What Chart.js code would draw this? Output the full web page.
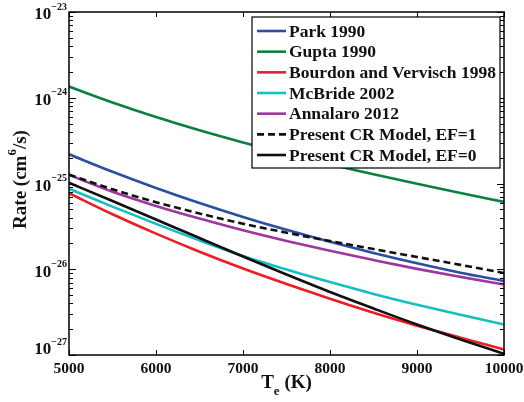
<!DOCTYPE html>
<html>
<head>
<meta charset="utf-8">
<script src="https://cdn.jsdelivr.net/npm/chart.js@4"></script>
<style>
  html, body { margin: 0; padding: 0; background: #fff; }
</style>
</head>
<body>
<canvas id="rateChart" width="524" height="402"></canvas>
<script>
// Recombination rate vs electron temperature
const temps = [5000, 5500, 6000, 6500, 7000, 7500, 8000, 8500, 9000, 9500, 10000];

const park     = [2.19e-25, 1.37e-25, 8.87e-26, 5.92e-26, 4.07e-26, 2.88e-26, 2.09e-26, 1.55e-26, 1.175e-26, 9.12e-27, 7.3e-27];
const gupta    = [1.35e-24, 8.81e-25, 5.96e-25, 4.17e-25, 3.01e-25, 2.22e-25, 1.67e-25, 1.28e-25, 9.93e-26, 7.76e-26, 6.1e-26];
const bourdon  = [7.69e-26, 4.38e-26, 2.60e-26, 1.60e-26, 1.02e-26, 6.73e-27, 4.53e-27, 3.11e-27, 2.20e-27, 1.59e-27, 1.16e-27];
const mcbride  = [8.69e-26, 5.38e-26, 3.38e-26, 2.17e-26, 1.43e-26, 9.93e-27, 7.08e-27, 5.16e-27, 3.86e-27, 2.95e-27, 2.27e-27];
const annalaro = [1.26e-25, 8.02e-26, 5.48e-26, 3.90e-26, 2.85e-26, 2.14e-26, 1.64e-26, 1.28e-26, 1.01e-26, 8.15e-27, 6.64e-27];
const crEF1    = [1.27e-25, 8.55e-26, 6.05e-26, 4.47e-26, 3.40e-26, 2.67e-26, 2.13e-26, 1.72e-26, 1.39e-26, 1.125e-26, 9.04e-27];
const crEF0    = [1.02e-25, 6.25e-26, 3.80e-26, 2.31e-26, 1.41e-26, 8.69e-27, 5.43e-27, 3.49e-27, 2.27e-27, 1.52e-27, 1.03e-27];

const seriesNames = ["Park 1990", "Gupta 1990", "Bourdon and Vervisch 1998", "McBride 2002",
                     "Annalaro 2012", "Present CR Model, EF=1", "Present CR Model, EF=0"];
const seriesColors = ["#2b4ea2", "#0a8040", "#ee1d25", "#14bfc1", "#a0359d", "#111111", "#111111"];
const seriesDash = [[], [], [], [], [], [7, 4], []];

const xTicks = [5000, 6000, 7000, 8000, 9000, 10000];
const yExponents = [-27, -26, -25, -24, -23];

const SERIF = '"Liberation Serif", "Times New Roman", serif';

function toPoints(arr) {
  return temps.map((t, i) => ({ x: t, y: arr[i] }));
}

const allSeries = [park, gupta, bourdon, mcbride, annalaro, crEF1, crEF0];

const datasets = allSeries.map((arr, i) => ({
  label: seriesNames[i],
  data: toPoints(arr),
  borderColor: seriesColors[i],
  borderDash: seriesDash[i],
  borderWidth: 2.6,
  pointRadius: 0,
  fill: false,
  cubicInterpolationMode: "monotone",
  order: allSeries.length - i   // later series drawn on top
}));

// axes box, inward ticks, labels and legend in the matlab style
const axesDecor = {
  id: "axesDecor",
  afterDatasetsDraw(chart) {
    const { ctx, chartArea: a, scales } = chart;
    const x = scales.x, y = scales.y;
    ctx.save();

    // ticks
    ctx.strokeStyle = "#000";
    ctx.lineWidth = 1;
    ctx.beginPath();
    xTicks.forEach(t => {
      const px = Math.round(x.getPixelForValue(t)) + 0.5;
      ctx.moveTo(px, a.bottom); ctx.lineTo(px, a.bottom - 5);
      ctx.moveTo(px, a.top); ctx.lineTo(px, a.top + 5);
    });
    yExponents.forEach(e => {
      const py = Math.round(y.getPixelForValue(Math.pow(10, e))) + 0.5;
      ctx.moveTo(a.left, py); ctx.lineTo(a.left + 7, py);
      ctx.moveTo(a.right, py); ctx.lineTo(a.right - 7, py);
      if (e < -23) {
        for (let m = 2; m <= 9; m++) {
          const pm = Math.round(y.getPixelForValue(m * Math.pow(10, e))) + 0.5;
          ctx.moveTo(a.left, pm); ctx.lineTo(a.left + 4, pm);
          ctx.moveTo(a.right, pm); ctx.lineTo(a.right - 4, pm);
        }
      }
    });
    ctx.stroke();

    // legend
    const lx = 252, ly = 17, lw = 248, lh = 151, rowH = 20.67;
    ctx.fillStyle = "#fff";
    ctx.fillRect(lx, ly, lw, lh);
    ctx.lineWidth = 1.2;
    ctx.strokeRect(lx, ly, lw, lh);
    ctx.font = "bold 17.5px " + SERIF;
    ctx.textBaseline = "middle";
    ctx.textAlign = "left";
    seriesNames.forEach((name, i) => {
      const ry = ly + 14 + i * rowH;
      ctx.strokeStyle = seriesColors[i];
      ctx.setLineDash(seriesDash[i]);
      ctx.lineWidth = 2.6;
      ctx.beginPath();
      ctx.moveTo(lx + 5, ry); ctx.lineTo(lx + 34, ry);
      ctx.stroke();
      ctx.setLineDash([]);
      ctx.fillStyle = "#111";
      ctx.fillText(name, lx + 37, ry + 1);
    });

    // axes box
    ctx.strokeStyle = "#000";
    ctx.lineWidth = 1.5;
    ctx.strokeRect(a.left, a.top, a.right - a.left, a.bottom - a.top);

    // x tick labels
    ctx.fillStyle = "#111";
    ctx.font = "bold 15.5px " + SERIF;
    ctx.textAlign = "center";
    xTicks.forEach(t => ctx.fillText(String(t), x.getPixelForValue(t), a.bottom + 14));

    // y tick labels, 10 with a superscript exponent
    yExponents.forEach(e => {
      const py = y.getPixelForValue(Math.pow(10, e));
      const off = e === -27 ? -5 : 3;
      const sup = "\u2212" + Math.abs(e);
      ctx.font = "bold 10px " + SERIF;
      const wSup = ctx.measureText(sup).width;
      ctx.textAlign = "right";
      ctx.fillText(sup, 67, py + off - 8);
      ctx.font = "bold 17px " + SERIF;
      ctx.fillText("10", 67 - wSup, py + off);
    });

    // x axis title: T_e (K)
    const cx = (a.left + a.right) / 2;
    ctx.font = "bold 19px " + SERIF;
    const wT = ctx.measureText("T").width;
    const wK = ctx.measureText(" (K)").width;
    ctx.font = "bold 13px " + SERIF;
    const wE = ctx.measureText("e").width;
    const sx = cx - (wT + wE + wK) / 2;
    ctx.textAlign = "left";
    ctx.font = "bold 19px " + SERIF;
    ctx.fillText("T", sx, a.bottom + 28);
    ctx.font = "bold 13px " + SERIF;
    ctx.fillText("e", sx + wT, a.bottom + 37);
    ctx.font = "bold 19px " + SERIF;
    ctx.fillText(" (K)", sx + wT + wE, a.bottom + 28);

    // y axis title: Rate (cm^6/s)
    ctx.translate(21, (a.top + a.bottom) / 2 - 4);
    ctx.rotate(-Math.PI / 2);
    ctx.font = "bold 19px " + SERIF;
    const p1 = "Rate (cm", p2 = "/s)";
    const w1 = ctx.measureText(p1).width, w3 = ctx.measureText(p2).width;
    ctx.font = "bold 13px " + SERIF;
    const w2 = ctx.measureText("6").width;
    const ty = -(w1 + w2 + w3) / 2;
    ctx.font = "bold 19px " + SERIF;
    ctx.fillText(p1, ty, 0);
    ctx.font = "bold 13px " + SERIF;
    ctx.fillText("6", ty + w1, -8);
    ctx.font = "bold 19px " + SERIF;
    ctx.fillText(p2, ty + w1 + w2, 0);

    ctx.restore();
  }
};

new Chart(document.getElementById("rateChart"), {
  type: "line",
  data: { datasets },
  options: {
    responsive: false,
    animation: false,
    devicePixelRatio: 1,
    layout: { padding: { left: 69, right: 20, top: 12, bottom: 47 } },
    plugins: { legend: { display: false }, tooltip: { enabled: false } },
    scales: {
      x: { type: "linear", min: 5000, max: 10000, display: false },
      y: { type: "logarithmic", min: 1e-27, max: 1e-23, display: false }
    }
  },
  plugins: [axesDecor]
});
</script>
</body>
</html>
